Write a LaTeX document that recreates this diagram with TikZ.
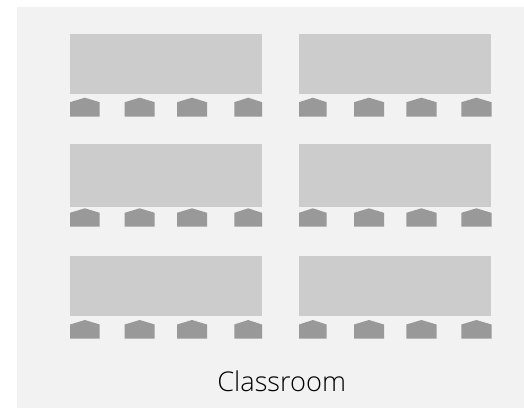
\documentclass[tikz,border=0pt]{standalone}
\usepackage{fontspec}
\setmainfont{Open Sans Light}
\definecolor{bgc}{HTML}{F2F2F2}
\definecolor{tablec}{HTML}{CCCCCC}
\definecolor{chairc}{HTML}{999999}
\tikzset{
  tablebox/.style={fill=tablec,draw=none},
  chairbox/.style={fill=chairc,draw=none},
  caption/.style={font=\fontsize{27.2}{30}\selectfont,text=black,inner sep=0pt,anchor=base}
}
\newcommand{\chairat}[4]{% x0, x1, ytop, ybottom
  \path[chairbox] (#1,#4) -- (#1,#3+4.5) -- ({(#1+#2)/2},#3) -- (#2,#3+4.5) -- (#2,#4) -- cycle;
}
\begin{document}
\begin{tikzpicture}[x=1pt,y=-1pt]
\useasboundingbox (0,0) rectangle (524,408);
\fill[bgc] (17,7) rectangle (524,408);
\foreach \ya/\yb/\ct/\cb in {34/94/97.7/116.7,144/207/208.3/226.7,256/316/320/338.7}{
  \foreach \xo in {0,229}{
    \path[tablebox] (70+\xo,\ya) rectangle (262+\xo,\yb);
  }
  \chairat{70}{99.7}{\ct}{\cb}
  \chairat{124.7}{154.7}{\ct}{\cb}
  \chairat{177}{207}{\ct}{\cb}
  \chairat{234.3}{262}{\ct}{\cb}
  \chairat{299}{326.7}{\ct}{\cb}
  \chairat{354}{384}{\ct}{\cb}
  \chairat{406.3}{436.5}{\ct}{\cb}
  \chairat{461.3}{491.5}{\ct}{\cb}
}
\node[caption] (title) at (281.7,391.3) {Classroom};
\end{tikzpicture}
\end{document}
